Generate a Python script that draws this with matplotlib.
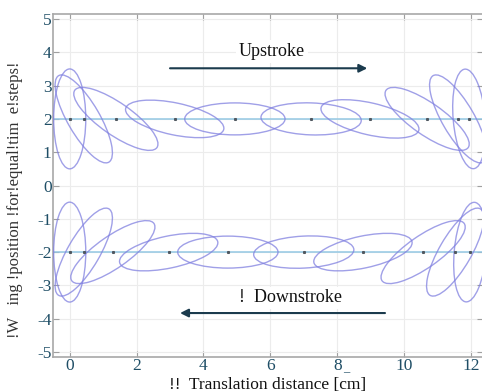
import numpy as np
import matplotlib.pyplot as plt
from matplotlib.patches import Ellipse

plt.rcParams['font.family'] = ['Liberation Serif', 'DejaVu Serif']
plt.rcParams['axes.unicode_minus'] = False

# wing centre positions along the stroke (cm) and chord angle (deg)
up_x = [0, 0.42, 1.38, 3.14, 4.94, 7.22, 8.98, 10.69, 11.62, 11.95]
up_ang = [-90, -60, -35, -12, 0, -2, -13, -35, -60, -85]
down_x = [0, 0.42, 1.29, 2.96, 4.73, 7.0, 8.77, 10.57, 11.53, 11.98]
down_ang = [90, 60, 35, 12, 0, 3, 12, 35, 60, 85]
up_y = 2
down_y = -2

wing_len = 3.0
wing_thick = 0.96

xticks = [0, 2, 4, 6, 8, 10, 12]
xtick_labels = ['0', '2', '4', '6', '8', '10', '12']
yticks = list(range(-5, 6))

tick_col = '#1f4e66'
wing_col = '#8080e0'
arrow_col = '#1b3b4d'

fig = plt.figure(figsize=(4.82, 3.92), dpi=100)
ax = fig.add_axes([53/482, 1 - 357/392, 1 - 53/482 + 0.002, (357 - 14)/392])

# stroke lines
ax.axhline(up_y, color='#94c8e4', lw=1.1, zorder=2)
ax.axhline(down_y, color='#94c8e4', lw=1.1, zorder=2)

for xs, angs, yc in [(up_x, up_ang, up_y), (down_x, down_ang, down_y)]:
    for x, a in zip(xs, angs):
        e = Ellipse((x, yc), wing_len, wing_thick, angle=a, fill=False,
                    edgecolor=wing_col, lw=1.0, alpha=0.75, zorder=3)
        ax.add_patch(e)
    ax.plot(xs, [yc] * len(xs), 's', color='#505860', ms=1.2, zorder=4)

# direction arrows
ax.annotate('', xy=(8.9, 3.52), xytext=(3.0, 3.52),
            arrowprops=dict(arrowstyle='-|>', color=arrow_col, lw=1.5,
                            mutation_scale=12, shrinkA=0, shrinkB=0))
ax.annotate('', xy=(3.3, -3.83), xytext=(9.43, -3.83),
            arrowprops=dict(arrowstyle='-|>', color=arrow_col, lw=1.5,
                            mutation_scale=12, shrinkA=0, shrinkB=0))

ax.text(6.05, 4.03, 'Upstroke', fontsize=13, ha='center', va='center',
        color='#111111', bbox=dict(fc='white', ec='none', pad=2), zorder=5)
ax.text(6.6, -3.37, '!  Downstroke', fontsize=13, ha='center', va='center',
        color='#111111', bbox=dict(fc='white', ec='none', pad=2), zorder=5)

ax.set_xlim(-0.5, 12.36)
ax.set_ylim(-5.15, 5.15)
ax.set_xticks(xticks)
ax.set_xticklabels(xtick_labels)
ax.set_yticks(yticks)
ax.tick_params(direction='in', length=4, color='#a0a0a0', labelcolor=tick_col,
               labelsize=12.5, top=True, right=True, pad=1)
ax.grid(True, color='#ececec', lw=0.8)
ax.set_axisbelow(True)
for s in ['left', 'bottom', 'top']:
    ax.spines[s].set_color('#a8a8a8')
    ax.spines[s].set_linewidth(1.2)
ax.spines['right'].set_visible(False)

# stray underscore after the 8 tick label
fig.text(343/482, 1 - 368/392, '_', fontsize=9, ha='left', va='center',
         color=tick_col)

fig.text(268/482, 1 - 385/392, '!!  Translation distance [cm]', fontsize=12.5,
         ha='center', va='center', color='#111111')
fig.text(15/482, 1 - 200/392, '!W   ing !position !for!equal!tim  e!steps!',
         fontsize=12, rotation=90, ha='center', va='center', color='#333333')

fig.savefig('out.png', dpi=100)
